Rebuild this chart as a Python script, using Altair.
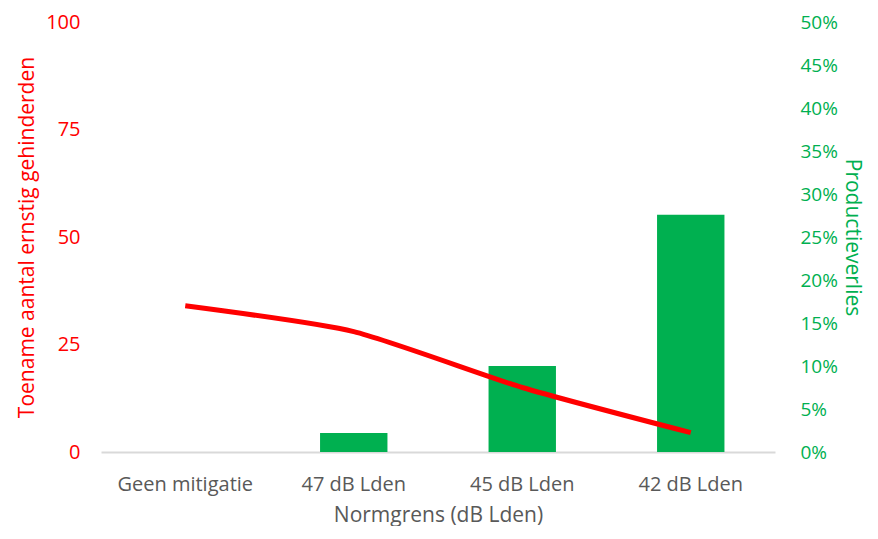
import altair as alt
import pandas as pd

categories = ["Geen mitigatie", "47 dB Lden", "45 dB Lden", "42 dB Lden"]
gehinderden = [34, 28, 15, 4.5]
productieverlies = [0.0, 0.022, 0.10, 0.276]

df = pd.DataFrame({"cat": categories, "gh": gehinderden, "pv": productieverlies})

FONT = "Open Sans"
RED = "#FF0000"
GREEN = "#00B050"

x = alt.X("cat:N", sort=categories,
          scale=alt.Scale(paddingInner=0.6, paddingOuter=0.3),
          axis=alt.Axis(title="Normgrens (dB Lden)", labelAngle=0, ticks=False,
                        domainColor="#D9D9D9", domainWidth=2,
                        labelColor="#595959", labelFontSize=20, labelPadding=22,
                        titleColor="#595959", titleFontSize=21, titleFontWeight="normal",
                        titlePadding=10, labelFont=FONT, titleFont=FONT))

bars = alt.Chart(df).mark_bar(color=GREEN).encode(
    x=x,
    y=alt.Y("pv:Q", scale=alt.Scale(domain=[0, 0.5]),
            axis=alt.Axis(orient="right", title="Productieverlies", format=".0%",
                          values=[i / 100 for i in range(0, 51, 5)],
                          grid=False, ticks=False, domain=False,
                          labelColor=GREEN, labelFontSize=19, labelPadding=25,
                          titleColor=GREEN, titleFontSize=21, titleFontWeight="normal",
                          titlePadding=4, labelFont=FONT, titleFont=FONT))
)

line = alt.Chart(df).mark_line(color=RED, strokeWidth=5, interpolate="cardinal",
                               tension=0.4).encode(
    x=x,
    y=alt.Y("gh:Q", scale=alt.Scale(domain=[0, 100]),
            axis=alt.Axis(orient="left", title="Toename aantal ernstig gehinderden",
                          values=[0, 25, 50, 75, 100],
                          grid=False, ticks=False, domain=False,
                          labelColor=RED, labelFontSize=20, labelPadding=21,
                          titleColor=RED, titleFontSize=21, titleFontWeight="normal",
                          titlePadding=8, labelFont=FONT, titleFont=FONT))
)

chart = alt.layer(bars, line).resolve_scale(y="independent").properties(
    width=674, height=430,
    autosize=alt.AutoSizeParams(type="none"),
    padding={"left": 93, "top": 14, "right": 94, "bottom": 74},
).configure_view(stroke=None)

chart.save("out.html", embed_options={"renderer": "svg", "actions": False})
